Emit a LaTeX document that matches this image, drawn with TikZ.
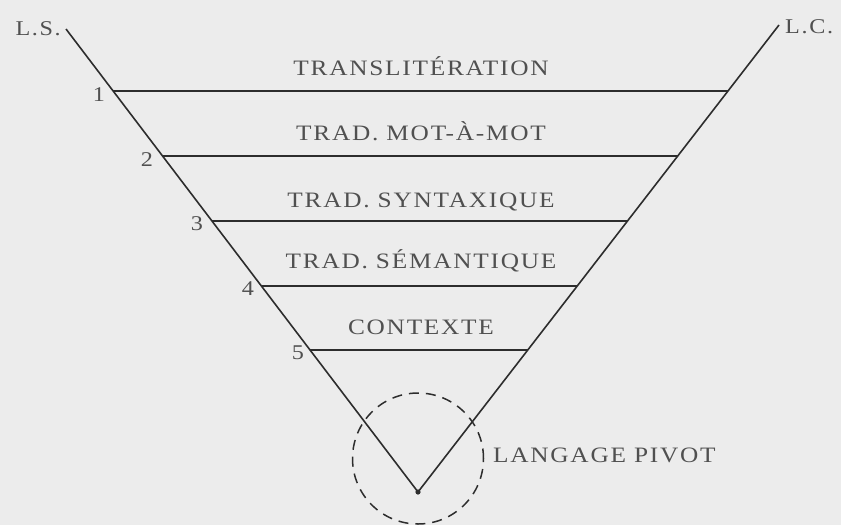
\documentclass[tikz,border=0pt]{standalone}
\usepackage{fontspec}
\setmainfont{Liberation Serif}
\newfontfamily\wideserif[FakeStretch=1.15,LetterSpace=8]{Liberation Serif}
\usetikzlibrary{calc}
\definecolor{bg}{RGB}{236,236,236}
\definecolor{ink}{RGB}{45,45,45}
\definecolor{txt}{RGB}{80,80,80}
\begin{document}
\begin{tikzpicture}[x=1pt,y=-1pt,
  edge/.style={draw=ink,line width=1.6pt},
  level/.style={draw=ink,line width=1.6pt},
  lab/.style={text=txt,font=\wideserif\fontsize{22}{26}\selectfont,anchor=base,inner sep=0pt},
  num/.style={text=txt,font=\wideserif\fontsize{21}{24}\selectfont,inner sep=0pt},
  pivot/.style={draw=ink,line width=1.5pt,dash pattern=on 10pt off 7pt}]
\fill[bg] (0,0) rectangle (841,525);
\useasboundingbox (0,0) rectangle (841,525);
% main frame
\coordinate (ls) at (66,29);
\coordinate (lc) at (779,25);
\coordinate (apex) at (418,492);
\draw[edge] (ls) -- (apex) -- (lc);
% level lines
\coordinate (L1) at (113.1,91);  \coordinate (R1) at (728.2,91);
\coordinate (L2) at (162.5,156); \coordinate (R2) at (677.9,156);
\coordinate (L3) at (212.0,221); \coordinate (R3) at (627.6,221);
\coordinate (L4) at (261.4,286); \coordinate (R4) at (577.3,286);
\coordinate (L5) at (310.0,350); \coordinate (R5) at (527.8,350);
\draw[level] (L1) -- (R1);
\draw[level] (L2) -- (R2);
\draw[level] (L3) -- (R3);
\draw[level] (L4) -- (R4);
\draw[level] (L5) -- (R5);
% corner labels
\node[num,anchor=east] (tls) at (61,29) {L.S.};
\node[num,anchor=west] (tlc) at (785,27) {L.C.};
% numbers
\node[num] (n1) at (99,95) {1};
\node[num] (n2) at (147,160) {2};
\node[num] (n3) at (197,224) {3};
\node[num] (n4) at (248,289) {4};
\node[num] (n5) at (298,353) {5};
% level texts
\node[lab] (t1) at (421,75) {TRANSLITÉRATION};
\node[lab] (t2) at (421,140) {TRAD. MOT-À-MOT};
\node[lab] (t3) at (421,207) {TRAD. SYNTAXIQUE};
\node[lab] (t4) at (421,268) {TRAD. SÉMANTIQUE};
\node[lab] (t5) at (421,334) {CONTEXTE};
% pivot
\node[pivot,circle,minimum size=131pt,inner sep=0pt] (circ) at (418,458.5) {};
\fill[ink] (apex) circle (2.6pt);
\node[lab,anchor=base west] (tp) at (493,462) {LANGAGE PIVOT};
\end{tikzpicture}
\end{document}
